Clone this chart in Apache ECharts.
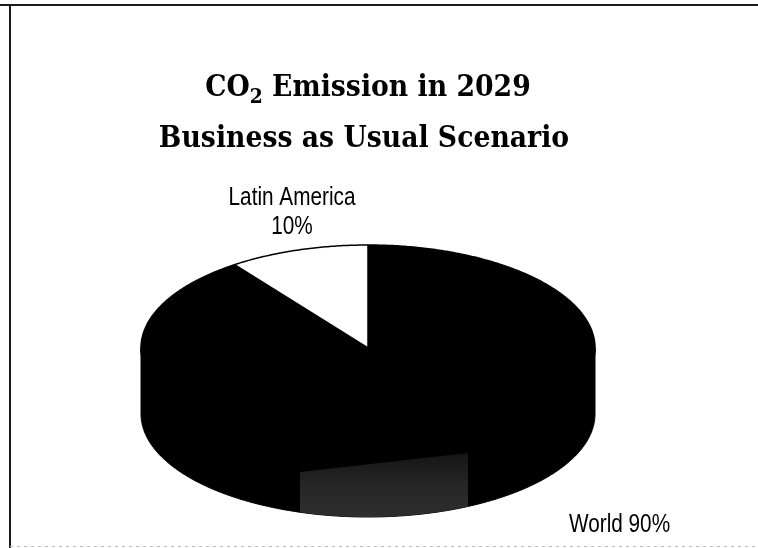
<!DOCTYPE html>
<html>
<head>
<meta charset="utf-8">
<script src="https://cdn.jsdelivr.net/npm/echarts@6/dist/echarts.min.js"></script>
<style>
  html, body { margin: 0; padding: 0; background: #ffffff; }
  #chart { width: 758px; height: 548px; }
</style>
</head>
<body>
<div id="chart"></div>
<script>
// Slices, clockwise from 12 o'clock
const categories = ['World', 'Latin America'];
const values = [90, 10];

// Title lines ({s|..} marks the subscript)
const titleLines = ['CO{s|2} Emission in 2029', 'Business as Usual Scenario'];

// Tilted-disc geometry
const CX = 368, CY = 348, RX = 227, RY = 103, DEPTH = 66;
const sliceFill = { 'World': '#000000', 'Latin America': '#ffffff' };
const LABEL_FONT = '"Liberation Sans", Arial, sans-serif';
const TITLE_FONT = '"DejaVu Serif", "Century Schoolbook", "Liberation Serif", serif';

// Where each slice label sits and how it is laid out
const labelSpots = {
  'World': { x: 569, y: 525, align: 'left', join: ' ' },
  'Latin America': { x: 292, y: 213, align: 'center', join: '\n' }
};

const total = values.reduce((a, b) => a + b, 0);
const startAngles = [];
let acc = 0;
values.forEach(v => { startAngles.push(-Math.PI / 2 + acc / total * 2 * Math.PI); acc += v; });

// Points along the rim ellipse between two angles (screen angles, y down)
function rim(a0, a1, dy) {
  const n = Math.max(2, Math.ceil(Math.abs(a1 - a0) / 0.01));
  const pts = [];
  for (let k = 0; k <= n; k++) {
    const t = a0 + (a1 - a0) * k / n;
    pts.push([CX + RX * Math.cos(t), CY + dy + RY * Math.sin(t)]);
  }
  return pts;
}

// Parts of [a0, a1] that face the viewer (lower half of the rim)
function frontParts(a0, a1) {
  const out = [];
  for (let k = -1; k <= 2; k++) {
    const s = Math.max(a0, 2 * Math.PI * k), e = Math.min(a1, 2 * Math.PI * k + Math.PI);
    if (e > s) out.push([s, e]);
  }
  return out;
}

function renderItem(params, api) {
  const i = params.dataIndex;
  const name = categories[i];
  const v = api.value(0);
  const a0 = startAngles[i];
  const a1 = a0 + v / total * 2 * Math.PI;
  const fill = sliceFill[name];
  const children = [];

  frontParts(a0, a1).forEach(([s, e]) => {
    children.push({
      type: 'polygon',
      shape: { points: rim(s, e, 0).concat(rim(e, s, DEPTH)) },
      style: { fill: fill, stroke: '#000', lineWidth: 1 },
      z2: 1
    });
    // faint light patch on the lower front of the dark side wall
    if (fill === '#000000') {
      const ps = Math.max(s, Math.acos((468 - CX) / RX));
      const pe = Math.min(e, Math.acos((300 - CX) / RX));
      if (pe > ps) {
        const arc = rim(ps, pe, DEPTH);
        children.push({
          type: 'polygon',
          shape: { points: [[300, 472], [468, 453]].concat(arc) },
          style: {
            fill: {
              type: 'linear', x: 0, y: 0, x2: 0, y2: 1,
              colorStops: [
                { offset: 0, color: '#141414' },
                { offset: 0.5, color: '#262626' },
                { offset: 1, color: '#2e2e2e' }
              ]
            }
          },
          z2: 2
        });
      }
    }
  });

  children.push({
    type: 'polygon',
    shape: { points: [[CX, CY]].concat(rim(a0, a1, 0)) },
    style: { fill: fill, stroke: '#000', lineWidth: 1.5, lineJoin: 'round' },
    z2: 10
  });

  const spot = labelSpots[name];
  const pct = Math.round(v / total * 100) + '%';
  children.push({
    type: 'text',
    x: spot.x, y: spot.y,
    scaleX: 0.83,
    style: {
      text: name + spot.join + pct,
      fill: '#000',
      fontFamily: LABEL_FONT,
      fontSize: 25,
      lineHeight: 29,
      align: spot.align,
      verticalAlign: 'middle'
    },
    z2: 20
  });

  return { type: 'group', children: children };
}

const chart = echarts.init(document.getElementById('chart'), null, { renderer: 'canvas' });
chart.setOption({
  backgroundColor: '#ffffff',
  animation: false,
  graphic: [
    { type: 'line', shape: { x1: 0, y1: 5, x2: 758, y2: 5 }, style: { stroke: '#1a1a1a', lineWidth: 2 } },
    { type: 'line', shape: { x1: 10, y1: 5, x2: 10, y2: 548 }, style: { stroke: '#1a1a1a', lineWidth: 2 } },
    { type: 'line', shape: { x1: 10, y1: 546.5, x2: 758, y2: 546.5 }, style: { stroke: '#bdbdbd', lineWidth: 1, lineDash: [3, 4] } },
    {
      type: 'text', x: 368, y: 88, scaleX: 0.89,
      style: {
        text: titleLines[0], fill: '#000', fontFamily: TITLE_FONT, fontWeight: 'bold',
        fontSize: 30, lineHeight: 40, align: 'center', verticalAlign: 'middle',
        rich: { s: { fontFamily: TITLE_FONT, fontWeight: 'bold', fontSize: 21, verticalAlign: 'bottom', fill: '#000' } }
      }
    },
    {
      type: 'text', x: 364, y: 139, scaleX: 0.89,
      style: {
        text: titleLines[1], fill: '#000', fontFamily: TITLE_FONT, fontWeight: 'bold',
        fontSize: 30, align: 'center', verticalAlign: 'middle'
      }
    }
  ],
  series: [{
    type: 'custom',
    coordinateSystem: 'none',
    renderItem: renderItem,
    data: values.map((v, i) => ({ name: categories[i], value: v }))
  }]
});
</script>
</body>
</html>
